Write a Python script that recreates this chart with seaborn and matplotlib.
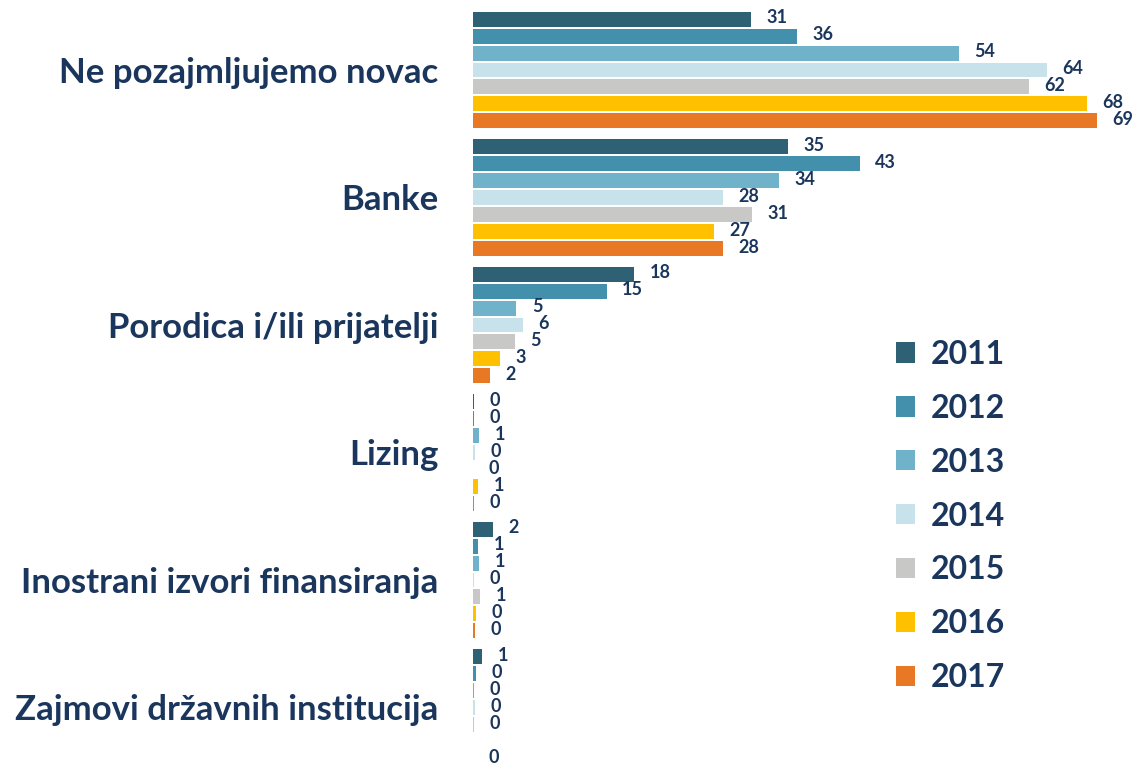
import pandas as pd
import matplotlib.pyplot as plt
import seaborn as sns

# Categorias y años
kategorije = ['Ne pozajmljujemo novac', 'Banke', 'Porodica i/ili prijatelji',
              'Lizing', 'Inostrani izvori finansiranja', 'Zajmovi državnih institucija']
godine = ['2011', '2012', '2013', '2014', '2015', '2016', '2017']

# Valores por año (en el orden de las categorias)
v2011 = [30.7, 34.8, 17.8, 0.15, 2.2, 1.0]
v2012 = [35.8, 42.8, 14.8, 0.15, 0.6, 0.3]
v2013 = [53.7, 33.8, 4.8, 0.7, 0.7, 0.15]
v2014 = [63.5, 27.7, 5.5, 0.2, 0.1, 0.2]
v2015 = [61.5, 30.9, 4.6, 0.0, 0.8, 0.1]
v2016 = [67.9, 26.6, 3.0, 0.6, 0.3, 0.0]
v2017 = [69.0, 27.6, 1.9, 0.15, 0.2, 0.0]
vrijednosti = [v2011, v2012, v2013, v2014, v2015, v2016, v2017]

# etiquetas que no se muestran (año, categoria)
bez_oznake = {('2016', 'Zajmovi državnih institucija')}

boje = ['#2E6174', '#4390AD', '#70B2C9', '#C8E2EB', '#C8C8C6', '#FFC000', '#E97825']
tekst = '#1B365D'

filas = []
for g, vals in zip(godine, vrijednosti):
    for k, v in zip(kategorije, vals):
        filas.append({'Kategorija': k, 'Godina': g, 'Vrijednost': v})
df = pd.DataFrame(filas)

plt.rcParams['font.family'] = ['Lato', 'DejaVu Sans']

fig = plt.figure(figsize=(11.34, 7.65), dpi=100)
ax = fig.add_axes([473 / 1134, 0, 661 / 1134, 1])

sns.barplot(data=df, y='Kategorija', x='Vrijednost', hue='Godina', order=kategorije,
            hue_order=godine, palette=boje, orient='h', width=0.93, gap=0.12,
            saturation=1, ax=ax, legend=True)

ax.set_xlim(0, 73.1)
ax.set_ylim(5.451, -0.549)
ax.set_xlabel('')
ax.set_ylabel('')
ax.set_xticks([])
for s in ax.spines.values():
    s.set_visible(False)
ax.tick_params(axis='y', length=0, pad=25)
ax.set_yticks(range(len(kategorije)))
ax.set_yticklabels(kategorije, fontsize=25, fontweight='bold', color=tekst)

# Etiquetas de valores
for g, cont in zip(godine, ax.containers):
    for k, p in zip(kategorije, cont.patches):
        if (g, k) in bez_oznake:
            continue
        w = p.get_width()
        y = p.get_y() + p.get_height() / 2
        ax.text(w + 1.7, y - 0.01, f'{w:.0f}', ha='left', va='center',
                fontsize=13, fontweight='bold', color=tekst)

handles, labels = ax.get_legend_handles_labels()
ax.get_legend().remove()
leg = fig.legend(handles, labels, loc='upper left', bbox_to_anchor=(867 / 1134, 1 - 311 / 765),
                 frameon=False, fontsize=23, handlelength=0.6, handleheight=0.6,
                 handletextpad=0.5, labelspacing=0.78)
for t in leg.get_texts():
    t.set_fontweight('bold')
    t.set_color(tekst)

fig.savefig('out.png', dpi=100)
